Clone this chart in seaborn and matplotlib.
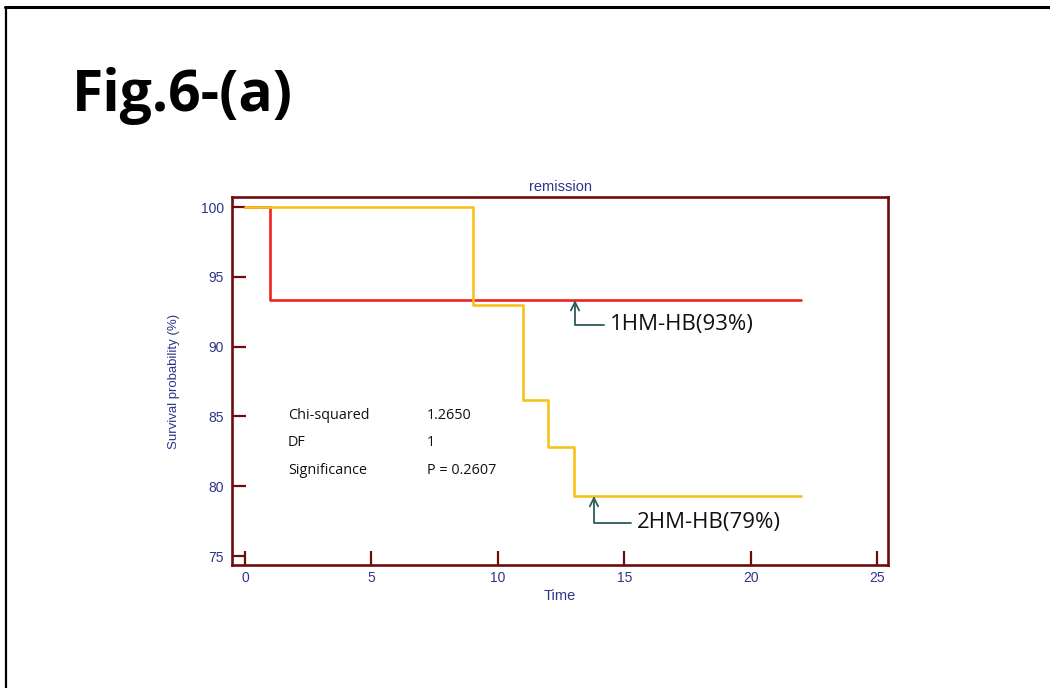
import matplotlib
matplotlib.use("Agg")
import matplotlib.pyplot as plt
from matplotlib.lines import Line2D
import seaborn as sns
import pandas as pd

# ---- data ----
time_1hm = [0, 1, 22]
surv_1hm = [100, 93.33, 93.33]
time_2hm = [0, 9, 11, 12, 13, 22]
surv_2hm = [100, 93.0, 86.2, 82.8, 79.3, 79.3]
group_labels = ["1HM-HB(93%)", "2HM-HB(79%)"]
x_ticks = [0, 5, 10, 15, 20, 25]
y_ticks = [75, 80, 85, 90, 95, 100]
stat_names = ["Chi-squared", "DF", "Significance"]
stat_values = ["1.2650", "1", "P = 0.2607"]

df1 = pd.DataFrame({"Time": time_1hm, "Survival": surv_1hm})
df2 = pd.DataFrame({"Time": time_2hm, "Survival": surv_2hm})

sns.set_theme(style="white")
plt.rcParams["font.family"] = ["Liberation Sans", "DejaVu Sans"]

frame_col = "#6e0c0c"
text_col = "#30348a"
red = "#ec2320"
yellow = "#f7c21b"
ann_col = "#2f5b5b"

fig = plt.figure(figsize=(10.5, 6.88), dpi=100)
ax = fig.add_axes([0.221, 0.1788, 0.6248, 0.5349])

sns.lineplot(data=df1, x="Time", y="Survival", drawstyle="steps-post",
             color=red, lw=1.9, estimator=None, sort=False, ax=ax)
sns.lineplot(data=df2, x="Time", y="Survival", drawstyle="steps-post",
             color=yellow, lw=1.9, estimator=None, sort=False, ax=ax)

ax.set_xlim(-0.51, 25.43)
ax.set_ylim(74.36, 100.72)
ax.set_xticks(x_ticks)
ax.set_yticks(y_ticks)
for s in ax.spines.values():
    s.set_color(frame_col)
    s.set_linewidth(1.9)
ax.tick_params(axis="both", direction="in", length=10, width=1.6,
               color=frame_col, labelcolor=text_col, labelsize=10,
               bottom=True, left=True)
ax.tick_params(axis="y", pad=6)
ax.tick_params(axis="x", pad=4)
ax.set_xlabel("Time", color=text_col, fontsize=10.5, labelpad=3)
ax.set_ylabel("Survival probability (%)", color=text_col, fontsize=9.5, labelpad=15)
ax.set_title("remission", color=text_col, fontsize=10.5, pad=4)
ax.grid(False)

# statistics text
stat_font = ["Open Sans", "DejaVu Sans"]
for i, (n, v) in enumerate(zip(stat_names, stat_values)):
    yy = 85.05 - i * 1.95
    ax.text(1.7, yy, n, fontsize=10.4, family=stat_font, color="#111111", va="center", ha="left")
    ax.text(7.2, yy, v, fontsize=10.4, family=stat_font, color="#111111", va="center", ha="left")

# annotations
arrow = dict(arrowstyle="->", color=ann_col, lw=1.3, shrinkA=2, shrinkB=0,
             connectionstyle="angle,angleA=0,angleB=90,rad=0", mutation_scale=15)
ax.annotate(group_labels[0], xy=(13.05, 93.33), xytext=(14.45, 91.55),
            fontsize=16, family=stat_font, color="#111111", va="center", ha="left",
            arrowprops=arrow)
ax.annotate(group_labels[1], xy=(13.8, 79.3), xytext=(15.5, 77.4),
            fontsize=16, family=stat_font, color="#111111", va="center", ha="left",
            arrowprops=arrow)

# slide title
fig.text(0.068, 0.838, "Fig.6-(a)", fontsize=41, fontweight="bold",
         family=["Open Sans", "DejaVu Sans"], color="black", va="baseline", ha="left")

# slide border
fig.add_artist(Line2D([5 / 1050, 1.0], [1 - 7 / 688, 1 - 7 / 688], color="black", lw=2.2,
                      transform=fig.transFigure))
fig.add_artist(Line2D([6 / 1050, 6 / 1050], [0, 1 - 7 / 688], color="black", lw=1.6,
                      transform=fig.transFigure))

fig.savefig("out.png", dpi=100, facecolor="white")
